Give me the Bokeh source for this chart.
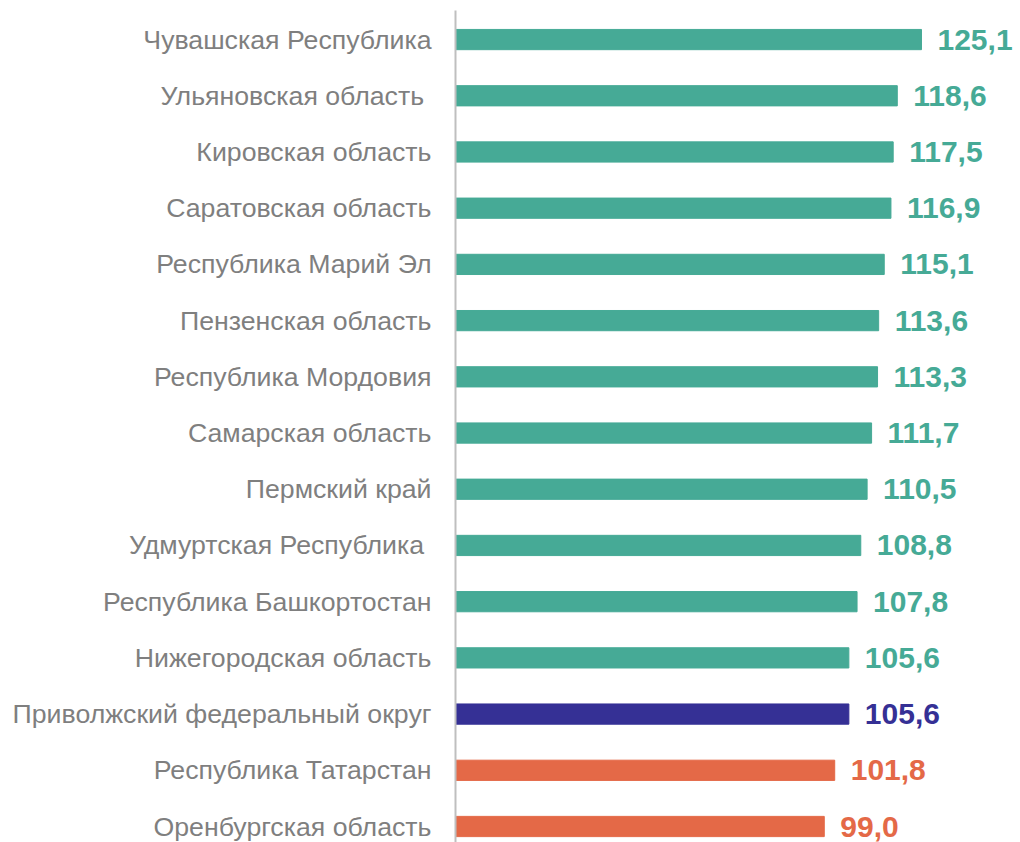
from bokeh.plotting import figure
from bokeh.models import Range1d, FixedTicker, ColumnDataSource
from bokeh.embed import file_html
from bokeh.resources import INLINE
from bokeh.core.properties import value

regions = [
    "Чувашская Республика",
    "Ульяновская область ",
    "Кировская область",
    "Саратовская область",
    "Республика Марий Эл",
    "Пензенская область",
    "Республика Мордовия",
    "Самарская область",
    "Пермский край",
    "Удмуртская Республика ",
    "Республика Башкортостан",
    "Нижегородская область",
    "Приволжский федеральный округ",
    "Республика Татарстан",
    "Оренбургская область",
]
values = [125.1, 118.6, 117.5, 116.9, 115.1, 113.6, 113.3, 111.7, 110.5,
          108.8, 107.8, 105.6, 105.6, 101.8, 99.0]
groups = ["region"] * 12 + ["district"] + ["low"] * 2

palette = {"region": "#46AA96", "district": "#353095", "low": "#E46947"}

n = len(regions)
ypos = [n - 1 - i for i in range(n)]
colors = [palette[g] for g in groups]
labels = [f"{v:.1f}".replace(".", ",") for v in values]

src = ColumnDataSource(dict(y=ypos, v=values, c=colors, lab=labels))

W, H = 1020, 842
left = 455
frame_w = W - left
x_end = frame_w / 3.725

p = figure(width=W, height=H, output_backend="svg", toolbar_location=None,
           x_range=Range1d(0, x_end), y_range=Range1d(-0.2846, 14.517),
           min_border_left=left, min_border_right=0, min_border_top=10,
           min_border_bottom=0)

p.hbar(y="y", left=0, right="v", height=0.36, color="c", source=src)
p.text(x="v", y="y", text="lab", text_color="c", x_offset=16,
       text_align="left", text_baseline="middle",
       text_font=value("Liberation Sans"), text_font_style="bold",
       text_font_size="30px", source=src)

p.xaxis.visible = False
p.xgrid.visible = False
p.ygrid.visible = False
p.outline_line_color = None

ya = p.yaxis[0]
ya.ticker = FixedTicker(ticks=ypos)
ya.major_label_overrides = {y: r for y, r in zip(ypos, regions)}
ya.major_tick_line_color = None
ya.minor_tick_line_color = None
ya.axis_line_color = "#BFBFBF"
ya.axis_line_width = 2
ya.major_label_standoff = 18
ya.major_label_text_font = "Liberation Sans"
ya.major_label_text_font_size = "26.7px"
ya.major_label_text_color = "#7F7F7F"

open("out.html", "w").write(file_html(p, INLINE))
